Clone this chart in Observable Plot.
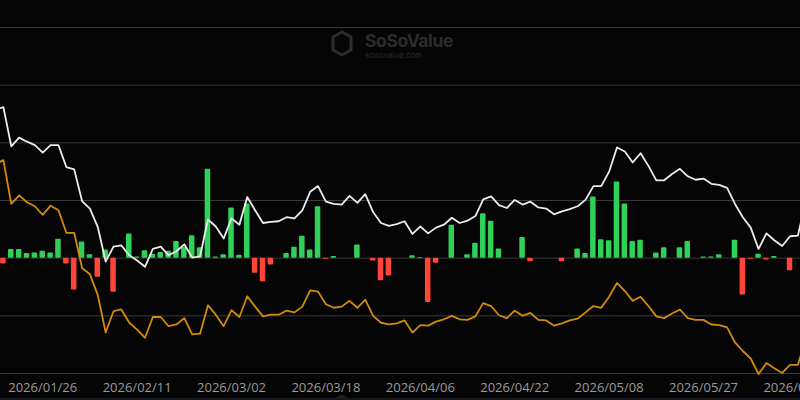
<!DOCTYPE html>
<html>
<head>
<meta charset="utf-8">
<script src="https://cdn.jsdelivr.net/npm/d3@7"></script>
<script src="https://cdn.jsdelivr.net/npm/@observablehq/plot@0.6"></script>
<style>
  html, body { margin: 0; padding: 0; background: #050505; }
  #wrap { position: relative; width: 800px; height: 400px; overflow: hidden; background: #050505; }
  #wrap svg.plot-root { display: block; }
  #wm { position: absolute; left: 0; top: 0; pointer-events: none; }
  #strip { position: absolute; left: 0; top: 398px; width: 800px; height: 2px; background: #15171c; }
</style>
</head>
<body>
<div id="wrap"></div>
<script>
// Trading days shown (Jan 15 and Jun 15 are only partly visible at the edges)
const dates = [
  "2026-01-15","2026-01-16","2026-01-20","2026-01-21","2026-01-22","2026-01-23",
  "2026-01-26","2026-01-27","2026-01-28","2026-01-29","2026-01-30",
  "2026-02-02","2026-02-03","2026-02-04","2026-02-05","2026-02-06",
  "2026-02-09","2026-02-10","2026-02-11","2026-02-12","2026-02-13",
  "2026-02-17","2026-02-18","2026-02-19","2026-02-20",
  "2026-02-23","2026-02-24","2026-02-25","2026-02-26","2026-02-27",
  "2026-03-02","2026-03-03","2026-03-04","2026-03-05","2026-03-06",
  "2026-03-09","2026-03-10","2026-03-11","2026-03-12","2026-03-13",
  "2026-03-16","2026-03-17","2026-03-18","2026-03-19","2026-03-20",
  "2026-03-23","2026-03-24","2026-03-25","2026-03-26","2026-03-27",
  "2026-03-30","2026-03-31","2026-04-01","2026-04-02",
  "2026-04-06","2026-04-07","2026-04-08","2026-04-09","2026-04-10",
  "2026-04-13","2026-04-14","2026-04-15","2026-04-16","2026-04-17",
  "2026-04-20","2026-04-21","2026-04-22","2026-04-23","2026-04-24",
  "2026-04-27","2026-04-28","2026-04-29","2026-04-30","2026-05-01",
  "2026-05-04","2026-05-05","2026-05-06","2026-05-07","2026-05-08",
  "2026-05-11","2026-05-12","2026-05-13","2026-05-14","2026-05-15",
  "2026-05-18","2026-05-19","2026-05-20","2026-05-21","2026-05-22",
  "2026-05-26","2026-05-27","2026-05-28","2026-05-29",
  "2026-06-01","2026-06-02","2026-06-03","2026-06-04","2026-06-05",
  "2026-06-08","2026-06-09","2026-06-10","2026-06-11","2026-06-12",
  "2026-06-15"
];

// Daily net flow (bars), in grid units (100 per gridline)
const flows = [
  null, -10, 15, 15, 8, 9, 12, 9, 33, -10, -55,
  28, 6, -33, 14, -59, 0, 42, 2, 13, 7,
  10, 12, 29, 19, 39, 18, 154, 2, 6,
  87, 5, 94, -26, -41, -12, 0, 8, 19, 38,
  14, 89, -2, 3, 0, 0, 23, 0, -5, -39,
  -31, 0, 0, 4, 1, -77, -9, 0, 57, 0,
  6, 26, 77, 64, 16, 0, 0, 36, -6, 0,
  0, 0, -6, 0, 16, 8, 106, 32, 30, 132,
  94, 29, 31, 0, 9, 18, 0, 18, 29, 0,
  2, 2, 6, 0, 31, -64, -2, 7, -3, 3,
  0, -22, 0, null
];

// White line (same grid units)
const whiteLine = [
  258, 262, 194, 209, 202, 196, 183, 196, 196, 158, 154,
  99, 86, 54, -6, 20, 22, 5, -4, -15, 16,
  20, 5, 12, 24, 1, 3, 67, 55, 34,
  69, 58, 106, 83, 61, 63, 64, 71, 69, 83,
  115, 125, 98, 94, 93, 108, 96, 111, 80, 61,
  56, 59, 64, 42, 55, 43, 53, 58, 70, 61,
  65, 73, 102, 107, 92, 87, 101, 93, 98, 88,
  86, 76, 81, 85, 90, 101, 125, 125, 150, 192,
  185, 166, 182, 160, 135, 135, 146, 155, 142, 136,
  138, 129, 127, 122, 94, 71, 53, 16, 43, 31,
  21, 38, 39, 100
];

// Orange line (same grid units)
const orangeLine = [
  163, 170, 94, 109, 97, 90, 75, 91, 83, 44, 44,
  -17, -28, -64, -129, -92, -89, -112, -124, -138, -102,
  -102, -118, -115, -104, -132, -131, -82, -98, -118,
  -90, -102, -66, -84, -101, -98, -98, -91, -94, -84,
  -56, -58, -80, -86, -84, -74, -86, -72, -100, -112,
  -115, -113, -108, -129, -116, -117, -110, -106, -100, -106,
  -107, -101, -78, -83, -99, -104, -91, -100, -95, -107,
  -108, -117, -113, -108, -105, -94, -83, -86, -67, -43,
  -57, -74, -67, -83, -101, -104, -96, -89, -104, -107,
  -107, -115, -116, -120, -146, -161, -174, -201, -182, -191,
  -199, -185, -185, -140
];

const tickDates = [
  "2026-01-26","2026-02-11","2026-03-02","2026-03-18","2026-04-06",
  "2026-04-22","2026-05-08","2026-05-27","2026-06-12"
];
const gridValues = [-200, -100, 0, 100, 200, 300, 400];

const rows = dates.map((date, i) => ({date, flow: flows[i], white: whiteLine[i], orange: orangeLine[i]}));
const barRows = rows.filter(d => d.flow != null);

const chart = Plot.plot({
  width: 800,
  height: 400,
  marginTop: 27,
  marginBottom: 27,
  marginLeft: 0,
  marginRight: 0,
  style: {background: "#050505", color: "#9a9a9a", fontFamily: "'Open Sans', sans-serif", fontSize: "13px"},
  x: {type: "band", domain: dates, range: [-8.9, 809.2], paddingInner: 0.3, paddingOuter: 0.15, align: 0.5, round: false, label: null},
  y: {domain: [-200, 400], axis: null},
  marks: [
    Plot.ruleY(gridValues, {stroke: "#3a3a3a", strokeWidth: 1}),
    Plot.barY(barRows.filter(d => d.flow >= 0), {x: "date", y: "flow", fill: "#2fd158", rx: 1}),
    Plot.barY(barRows.filter(d => d.flow < 0), {x: "date", y: "flow", fill: "#ff4438", rx: 1}),
    Plot.lineY(rows, {x: "date", y: "orange", stroke: "#d48a0a", strokeWidth: 1.8}),
    Plot.lineY(rows, {x: "date", y: "white", stroke: "#ececec", strokeWidth: 1.8}),
    Plot.axisX({ticks: tickDates, tickFormat: d => d.replaceAll("-", "/"), tickSize: 0, tickPadding: 9, fill: "#9a9a9a", fontSize: 13, label: null})
  ]
});
chart.classList.add("plot-root");
const wrap = document.getElementById("wrap");
wrap.appendChild(chart);

// Watermark overlay (decoration)
const ns = "http://www.w3.org/2000/svg";
const wm = document.createElementNS(ns, "svg");
wm.setAttribute("id", "wm");
wm.setAttribute("width", 800);
wm.setAttribute("height", 400);
wm.innerHTML = `
  <path d="M342,32 L351,37 L351,50 L342,55 L333,50 L333,37 Z" fill="none" stroke="#2c2c2c" stroke-width="3" stroke-linejoin="round"/>
  <text x="365" y="47" font-family="Inter, 'Open Sans', sans-serif" font-weight="700" font-size="17.5" letter-spacing="-0.4" fill="#2c2c2c">SoSoValue</text>
  <text x="365.5" y="58" font-family="Inter, 'Open Sans', sans-serif" font-size="8" fill="#2a2a2a">sosovalue.com</text>
  <path d="M342,396 L351,401 L333,401 Z" fill="none" stroke="#1e1e1e" stroke-width="3" stroke-linejoin="round"/>`;
wrap.appendChild(wm);
const strip = document.createElement("div");
strip.id = "strip";
wrap.appendChild(strip);
</script>
</body>
</html>
